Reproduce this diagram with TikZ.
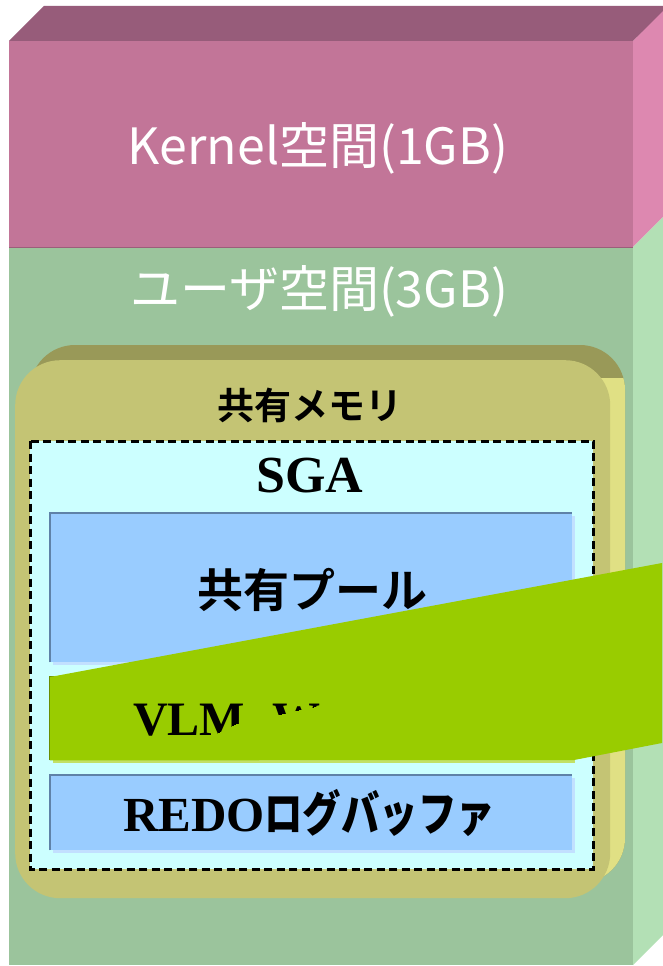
\documentclass[tikz,border=0pt]{standalone}
\usepackage{fontspec}
\setmainfont{Liberation Serif}
\newfontfamily\jpfont{Noto Sans CJK JP}[BoldFont={Noto Sans CJK JP Bold}]
\newfontfamily\jpnarrow{Noto Sans CJK JP Bold}[FakeStretch=0.8]
\usetikzlibrary{positioning,shadows}
\definecolor{kerneltop}{HTML}{975C7A}
\definecolor{kernelfront}{HTML}{C27598}
\definecolor{kernelside}{HTML}{DD88B0}
\definecolor{userfront}{HTML}{9BC49C}
\definecolor{userside}{HTML}{B3E0B5}
\definecolor{olivefront}{HTML}{C4C474}
\definecolor{olivetop}{HTML}{999958}
\definecolor{oliveside}{HTML}{E0E084}
\definecolor{sgafill}{HTML}{CCFFFF}
\definecolor{poolblue}{HTML}{99CCFF}
\definecolor{pooledge}{HTML}{5F82A8}
\definecolor{bandgreen}{HTML}{99CC00}
\definecolor{bandedge}{HTML}{6B8E00}
\tikzset{
    spacetext/.style={text=white, font=\jpfont\fontsize{50}{50}\selectfont, inner sep=0pt},
    bufbox/.style={fill=#1, draw=none, minimum width=522pt, inner sep=0pt, anchor=north west,
        general shadow={fill=#1!60!white, shadow xshift=3pt, shadow yshift=-3pt}},
    bufbox/.default={poolblue},
    bufedge/.style={draw=#1, line width=1.5pt},
    bufedge/.default={pooledge},
    sgaborder/.style={draw=black, line width=3pt, dash pattern=on 8pt off 4.5pt}
}

\begin{document}
\begin{tikzpicture}[x=1pt, y=-1pt]
    \useasboundingbox[fill=white] (0,0) rectangle (662,966);
    % outer box
    \fill[kerneltop] (9,41) -- (44,6) -- (670,6) -- (633,41) -- cycle;
    \fill[kernelside] (633,41) -- (668,6) -- (668,212) -- (633,247) -- cycle;
    \fill[userside] (633,247) -- (668,212) -- (668,930) -- (633,965) -- cycle;
    \node[fill=kernelfront, minimum width=624pt, minimum height=206pt, inner sep=0pt, anchor=north west] (kernel) at (9,41) {};
    \node[fill=userfront, minimum width=624pt, minimum height=718pt, inner sep=0pt, anchor=north west] (user) at (9,247) {};
    \draw[kernelfront!80!black, line width=1pt] (user.north west) -- (user.north east);
    \node[spacetext] (kerneltext) at (318,148) {Kernel空間(1GB)};
    \node[spacetext] (usertext) at (319,291) {ユーザ空間(3GB)};
    % shared memory
    \fill[olivetop, rounded corners=45pt] (30,345) rectangle (625,883);
    \begin{scope}
        \clip (598,378) rectangle (640,900);
        \fill[oliveside, rounded corners=45pt] (30,345) rectangle (625,883);
    \end{scope}
    \node[fill=olivefront, rounded corners=45pt, minimum width=595pt, minimum height=538pt, inner sep=0pt, anchor=north west] (shm) at (15,360) {};
    \node[font=\jpfont\bfseries\fontsize{37}{37}\selectfont, inner sep=0pt] (shmtext) at (310,405) {共有メモリ};
    % SGA
    \node[fill=sgafill, minimum width=563pt, minimum height=428pt, inner sep=0pt, anchor=north west] (sga) at (30,441) {};
    \draw[sgaborder] (sga.north west) rectangle (sga.south east);
    \node[font=\bfseries\fontsize{52}{52}\selectfont, inner sep=0pt] (sgatext) at (310,476) {SGA};
    % buffers
    \node[bufbox, minimum height=149pt] (pool) at (50,513) {};
    \draw[bufedge] (pool.south west) -- (pool.north west) -- (pool.north east);
    \node[font=\jpfont\bfseries\fontsize{46}{46}\selectfont, inner sep=0pt] (pooltext) at (312,590) {共有プール};
    \node[bufbox=bandgreen, minimum height=83pt] (vlm) at (50,677) {};
    \draw[bufedge=bandedge] (vlm.south west) -- (vlm.north west) -- ++(30,0);
    \node[bufbox, minimum height=75pt] (redo) at (50,775) {};
    \draw[bufedge] (redo.south west) -- (redo.north west) -- (redo.north east);
    \node[inner sep=0pt] (redotext) at (309,813) {\bfseries\fontsize{49}{49}\selectfont REDO\jpnarrow\fontsize{48}{48}\selectfont ログバッファ};
    % band over VLM
    \fill[bandgreen] (vlm.north west) -- (662,563) -- (662,743) -- (574,760) -- (vlm.south west) -- cycle;
    \begin{scope}
        \clip (100,680) -- (100,745) -- (210,745) -- (217,733) -- (238,723) -- (277,715) -- (307,708) -- (360,700) -- (360,680) -- cycle;
        \node[font=\bfseries\fontsize{48}{48}\selectfont, inner sep=0pt, anchor=base west] (vlmtext) at (133,735) {VLM\hspace{27pt}W};
    \end{scope}
\end{tikzpicture}
\end{document}
